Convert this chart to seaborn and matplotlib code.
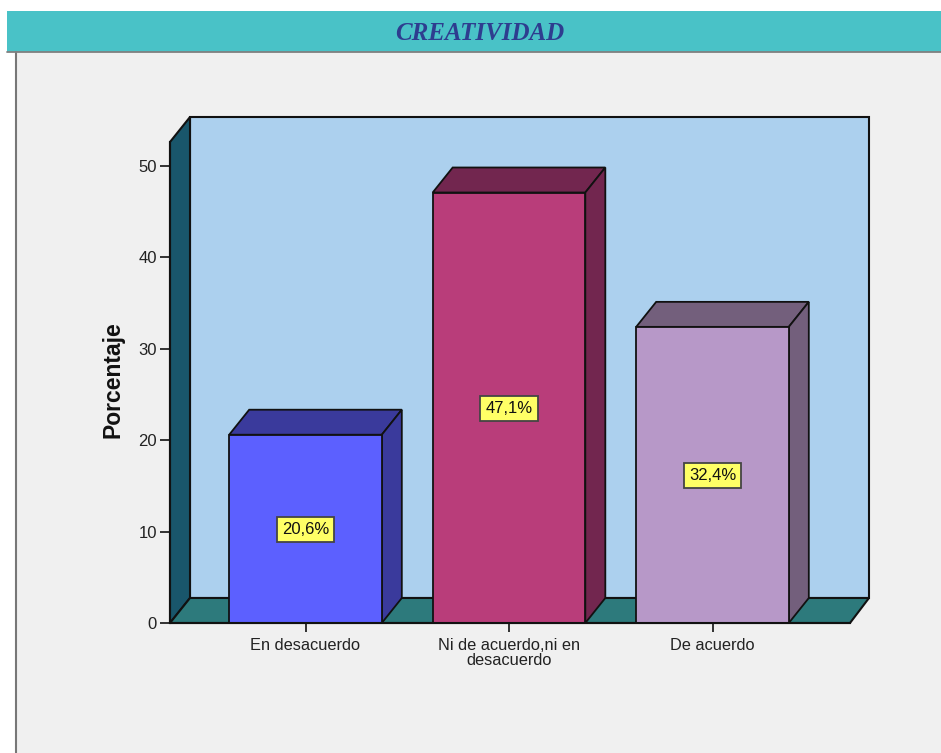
import matplotlib
matplotlib.use("Agg")
import matplotlib.pyplot as plt
from matplotlib.patches import Polygon, Rectangle
import seaborn as sns

categories = ["En desacuerdo", "Ni de acuerdo,ni en\ndesacuerdo", "De acuerdo"]
values = [20.6, 47.1, 32.4]
value_labels = ["20,6%", "47,1%", "32,4%"]
front_colors = ["#5c60ff", "#b93d7a", "#b798c8"]
top_colors = ["#3a3a9c", "#72264f", "#735f7c"]
yticks = [0, 10, 20, 30, 40, 50]
title = "CREATIVIDAD"
ylabel = "Porcentaje"

W, H = 941, 753
sns.set_theme(style="white")
plt.rcParams["font.family"] = ["Liberation Sans", "DejaVu Sans"]
fig = plt.figure(figsize=(W / 100, H / 100), dpi=100, facecolor="white")

# Window chrome, in a pixel-coordinate overlay
bg = fig.add_axes([0, 0, 1, 1], zorder=0)
bg.set_xlim(0, W)
bg.set_ylim(H, 0)
bg.axis("off")
bg.add_patch(Rectangle((16, 52), W - 16, H - 52, fc="#f0f0f0", ec="none"))
bg.plot([16.5, 16.5], [52, H], color="#777777", lw=1.5)
bg.add_patch(Rectangle((7, 10.5), W - 7, 41, fc="#49c2c7", ec="none"))
bg.plot([7, W], [52, 52], color="#808080", lw=1.3)
bg.text(480, 33, title, ha="center", va="center", fontsize=18, style="italic",
        fontweight="bold", family="Liberation Serif", color="#2e3d8f")

# Chart axes: front plane of the 3D box
L, R, T, B = 170, 850, 142, 623
ax = fig.add_axes([L / W, 1 - B / H, (R - L) / W, (B - T) / H], zorder=1)
ax.patch.set_alpha(0)
px_x = 203.5
px_y = 9.14
ax.set_xlim(-(305.5 - L) / px_x, (R - 305.5) / px_x)
ax.set_ylim(0, (B - T) / px_y)
dx, dy = 20 / px_x, 25 / px_y
wall_dx = 19 / px_x
x0, x1 = ax.get_xlim()
y0, y1 = ax.get_ylim()

line = "#111111"
ax.add_patch(Polygon([(x0 + dx, y0 + dy), (x1 + wall_dx, y0 + dy), (x1 + wall_dx, y1 + dy), (x0 + dx, y1 + dy)],
                     fc="#acd0ee", ec=line, lw=1.5, clip_on=False, zorder=0.3))
ax.add_patch(Polygon([(x0, y0), (x0 + dx, y0 + dy), (x0 + dx, y1 + dy), (x0, y1)],
                     fc="#19566b", ec=line, lw=1.5, clip_on=False, zorder=0.4))
ax.add_patch(Polygon([(x0, y0), (x0 + dx, y0 + dy), (x1 + wall_dx, y0 + dy), (x1, y0)],
                     fc="#2d7a7c", ec=line, lw=1.5, clip_on=False, zorder=0.5))

sns.barplot(x=categories, y=values, hue=categories, palette=front_colors, dodge=False,
            width=0.75, saturation=1, edgecolor=line, linewidth=1.3, legend=False,
            ax=ax, zorder=3)
ax.set_xlim(x0, x1)
ax.set_ylim(y0, y1)

bars = [p for p in ax.patches if p.get_zorder() == 3]
for bar, top_c, lab in zip(bars, top_colors, value_labels):
    xa, w, h = bar.get_x(), bar.get_width(), bar.get_height()
    xb = xa + w
    ax.add_patch(Polygon([(xa, h), (xa + dx, h + dy), (xb + dx, h + dy), (xb, h)],
                         fc=top_c, ec=line, lw=1.3, clip_on=False, zorder=2))
    ax.add_patch(Polygon([(xb, 0), (xb + dx, dy), (xb + dx, h + dy), (xb, h)],
                         fc=top_c, ec=line, lw=1.3, clip_on=False, zorder=2))
    ax.text(xa + w / 2, h / 2 - 0.1, lab, ha="center", va="center", fontsize=12, color="#111111", zorder=5,
            bbox=dict(boxstyle="square,pad=0.3", fc="#ffff66", ec="#444444", lw=1.3))

ax.set_yticks(yticks)
ax.set_xticks(range(len(categories)))
ax.set_xticklabels(categories, linespacing=1.05)
ax.tick_params(axis="both", which="major", direction="out", color=line, labelcolor="#222222",
               width=1.2, bottom=True, left=True)
ax.tick_params(axis="x", length=6.5, pad=4, labelsize=11.8)
ax.tick_params(axis="y", length=7.5, pad=2, labelsize=12)
for s in ["top", "right"]:
    ax.spines[s].set_visible(False)
for s in ["left", "bottom"]:
    ax.spines[s].set_color(line)
    ax.spines[s].set_linewidth(1.5)
ax.spines["bottom"].set_zorder(6)
ax.set_ylabel(ylabel, fontsize=16.5, fontweight="bold", color="#111111")
ax.yaxis.set_label_coords((125 - L) / (R - L), (B - 380) / (B - T))

fig.savefig("out.png", dpi=100, facecolor="white")
